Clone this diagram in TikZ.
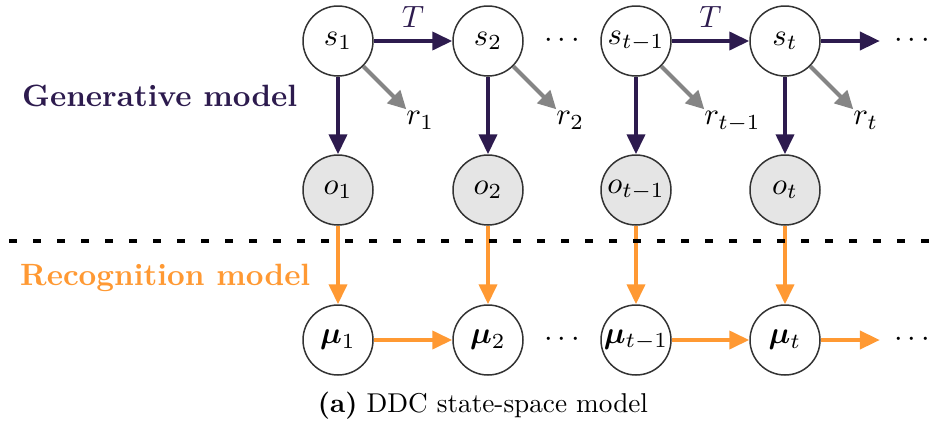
\documentclass[tikz,border=0pt]{standalone}
\usepackage{graphicx}
\usepackage{bm}
\usetikzlibrary{arrows.meta}
\definecolor{genpurple}{HTML}{2D1B4E}
\definecolor{recorange}{HTML}{FF9933}
\definecolor{rgray}{HTML}{858585}
\definecolor{circstroke}{HTML}{333333}
\newlength\genwd
\newcommand\bt[1]{\scalebox{\kf}{#1}}
\begin{document}
\settowidth{\genwd}{\textbf{Generative model}}
\pgfmathsetmacro\kf{275/\genwd}
\begin{tikzpicture}[x=1pt,y=-1pt,
  var/.style={circle, draw=circstroke, line width=1.5pt, fill=white, minimum size=70pt, inner sep=0pt},
  obs/.style={var, fill=gray!20},
  tiptri/.style={-{Triangle[length=20pt,width=18pt]}},
  genarrow/.style={draw=genpurple, fill=genpurple, line width=4pt, tiptri},
  recarrow/.style={draw=recorange, fill=recorange, line width=4pt, tiptri},
  rewarrow/.style={draw=rgray, fill=rgray, line width=4pt, -{Triangle[length=18pt,width=18pt]}},
  lab/.style={inner sep=0pt},
  rlab/.style={lab, anchor=north west},
  tlab/.style={lab, anchor=south, yshift=12pt, text=genpurple},
  dotsnode/.style={lab},
  sidelab/.style={anchor=base west, inner sep=0pt}
]
\useasboundingbox (0,0) rectangle (945,421);

% state row
\node[var] (s1) at (338,41) {\bt{$s_1$}};
\node[var] (s2) at (488,41) {\bt{$s_2$}};
\node[var] (s3) at (636,41) {\bt{$s_{t-1}$}};
\node[var] (s4) at (785,41) {\bt{$s_t$}};
\node[dotsnode] (ds) at (562,41) {\bt{$\cdots$}};
\node[dotsnode] (dsR) at (912,41) {\bt{$\cdots$}};

% observation row
\node[obs] (o1) at (338,190) {\bt{$o_1$}};
\node[obs] (o2) at (488,190) {\bt{$o_2$}};
\node[obs] (o3) at (636,190) {\bt{$o_{t-1}$}};
\node[obs] (o4) at (785,190) {\bt{$o_t$}};

% recognition row
\node[var] (m1) at (338,340) {\bt{$\bm{\mu}_1$}};
\node[var] (m2) at (488,340) {\bt{$\bm{\mu}_2$}};
\node[var] (m3) at (636,340) {\bt{$\bm{\mu}_{t-1}$}};
\node[var] (m4) at (785,340) {\bt{$\bm{\mu}_t$}};
\node[dotsnode] (dm) at (562,340) {\bt{$\cdots$}};
\node[dotsnode] (dmR) at (912,340) {\bt{$\cdots$}};

% transitions
\draw[genarrow] (s1) -- node[tlab] (T1) {\bt{$T$}} (s2);
\draw[genarrow] (s3) -- node[tlab] (T2) {\bt{$T$}} (s4);
\draw[genarrow, shorten >=14pt] (s4) -- (dsR.west);

% emissions
\foreach \i in {1,...,4}{
  \draw[genarrow] (s\i) -- (o\i);
  \draw[recarrow] (o\i) -- (m\i);
}

% rewards
\draw[rewarrow] (s1.-45) -- ++(43,43) coordinate (t1);
\draw[rewarrow] (s2.-45) -- ++(43,43) coordinate (t2);
\draw[rewarrow] (s3.-45) -- ++(43,43) coordinate (t3);
\draw[rewarrow] (s4.-45) -- ++(43,43) coordinate (t4);
\node[rlab] (r1) at ([yshift=-2pt]t1) {\bt{$r_1$}};
\node[rlab] (r2) at ([yshift=-2pt]t2) {\bt{$r_2$}};
\node[rlab] (r3) at ([yshift=-2pt]t3) {\bt{$r_{t-1}$}};
\node[rlab] (r4) at ([yshift=-2pt]t4) {\bt{$r_t$}};

% recognition transitions
\draw[recarrow] (m1) -- (m2);
\draw[recarrow] (m3) -- (m4);
\draw[recarrow, shorten >=14pt] (m4) -- (dmR.west);

% separator
\coordinate (dl) at (9,241);
\coordinate (dr) at (945,241);
\draw[black, line width=4pt, dash pattern=on 8pt off 16pt] (dl) -- (dr);

% side labels
\node[sidelab, text=genpurple] (gen) at (22,106) {\resizebox{275pt}{!}{\textbf{Generative model}}};
\node[sidelab, text=recorange] (rec) at (20,285) {\bt{\textbf{Recognition model}}};

% caption
\node[anchor=base, inner sep=0pt] (cap) at (483,412) {\resizebox{330pt}{!}{\textbf{(a)} DDC state-space model}};
\end{tikzpicture}
\end{document}
